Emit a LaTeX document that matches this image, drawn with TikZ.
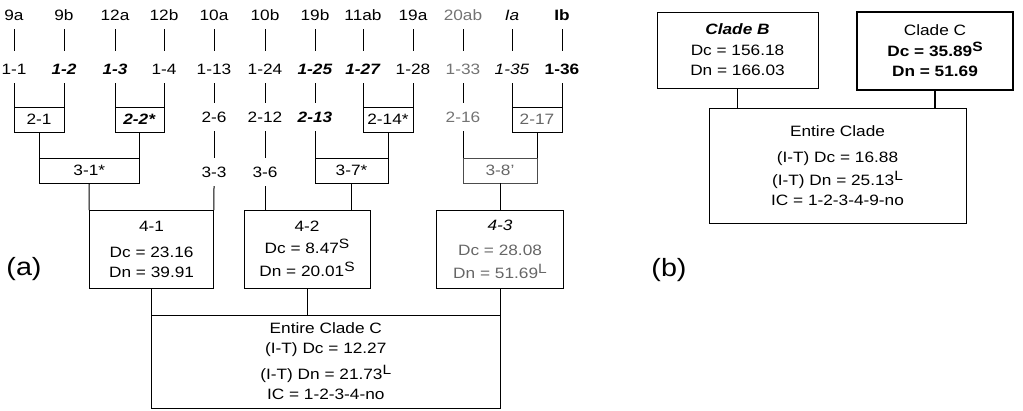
\documentclass[tikz,border=0pt]{standalone}
\usepackage{fontspec}
\setmainfont{Liberation Sans}[FakeStretch=1.15]
\newcommand\myfs{\fontsize{15}{20}\selectfont}
\newcommand\msup[1]{\raisebox{5pt}{\fontsize{13.5}{13.5}\selectfont #1}}
\newcommand\bi[1]{\textbf{\textit{#1}}}
\begin{document}
\begin{tikzpicture}[x=1pt,y=-1pt,
  lbl/.style={inner sep=0pt, outer xsep=0pt, outer ysep=9pt, text height=10pt, text depth=0pt, font=\myfs},
  bx/.style={draw, line width=1pt, inner sep=0pt, outer sep=0pt, font=\myfs, align=center},
  ln/.style={line width=1pt},
  topln/.style={ln, shorten >=4pt},
  gr/.style={text=black!55},
  big/.style={font=\fontsize{25}{25}\selectfont, inner sep=0pt}
]
\useasboundingbox (0,0) rectangle (1023,410);
% top row
\node[lbl] (t1) at (14,15) {9a};
\node[lbl] (t2) at (64,15) {9b};
\node[lbl] (t3) at (115,15) {12a};
\node[lbl] (t4) at (164,15) {12b};
\node[lbl] (t5) at (214,15) {10a};
\node[lbl] (t6) at (265,15) {10b};
\node[lbl] (t7) at (315,15) {19b};
\node[lbl] (t8) at (363,15) {11ab};
\node[lbl] (t9) at (413,15) {19a};
\node[lbl,gr] (t10) at (463,15) {20ab};
\node[lbl] (t11) at (512,15) {\textit{Ia}};
\node[lbl] (t12) at (562,15) {\textbf{Ib}};
% second row
\node[lbl] (s1) at (14,69) {1-1};
\node[lbl] (s2) at (64,69) {\bi{1-2}};
\node[lbl] (s3) at (115,69) {\bi{1-3}};
\node[lbl] (s4) at (164,69) {1-4};
\node[lbl] (s5) at (214,69) {1-13};
\node[lbl] (s6) at (265,69) {1-24};
\node[lbl] (s7) at (315,69) {\bi{1-25}};
\node[lbl] (s8) at (363,69) {\bi{1-27}};
\node[lbl] (s9) at (413,69) {1-28};
\node[lbl,gr] (s10) at (463,69) {1-33};
\node[lbl] (s11) at (512,69) {\textit{1-35}};
\node[lbl] (s12) at (562,69) {\textbf{1-36}};
\foreach \i in {1,...,12} {\draw[topln] (t\i.south) -- (s\i.north);}
% level 2
\node[bx, minimum width=50, minimum height=25] (b21) at (39,119.5) {2-1};
\node[bx, minimum width=49, minimum height=25] (b22) at (139.5,119.5) {\bi{2-2*}};
\node[lbl] (r26) at (214,117) {2-6};
\node[lbl] (r212) at (265,117) {2-12};
\node[lbl] (r213) at (315,117) {\bi{2-13}};
\node[bx, minimum width=50, minimum height=25] (b214) at (388,119.5) {2-14*};
\node[lbl,gr] (r216) at (463,117) {2-16};
\node[bx, minimum width=50, minimum height=25, text=black!60] (b217) at (537,119.5) {2-17};
\draw[ln] (s1.south) -- (b21.north west);
\draw[ln] (s2.south) -- (b21.north east);
\draw[ln] (s3.south) -- (b22.north west);
\draw[ln] (s4.south) -- (b22.north east);
\draw[ln] (s5.south) -- (r26.north);
\draw[ln] (s6.south) -- (r212.north);
\draw[ln] (s7.south) -- (r213.north);
\draw[ln] (s8.south) -- (b214.north west);
\draw[ln] (s9.south) -- (b214.north east);
\draw[ln] (s10.south) -- (r216.north);
\draw[ln] (s11.south) -- (b217.north west);
\draw[ln] (s12.south) -- (b217.north east);
% level 3
\node[bx, minimum width=100.5, minimum height=25] (b31) at (89.25,170.5) {3-1*};
\node[lbl] (r33) at (214,172) {3-3};
\node[lbl] (r36) at (265,172) {3-6};
\node[bx, minimum width=73, minimum height=25] (b37) at (351.5,170.5) {3-7*};
\node[bx, draw=black!70, minimum width=74, minimum height=25, text=black!60] (b38) at (500,170.5) {3-8’};
\draw[ln] (b21.south) -- (b31.north west);
\draw[ln] (b22.south) -- (b31.north east);
\draw[ln] (r26.south) -- (r33.north);
\draw[ln] (r212.south) -- (r36.north);
\draw[ln] (r213.south) -- (b37.north west);
\draw[ln] (b214.south) -- (b37.north east);
\draw[ln] (r216.south) -- (b38.north west);
\draw[ln] (b217.south) -- (b38.north east);
% level 4
\node[bx, minimum width=124.75, minimum height=78] (b41) at (151.6,249)
  {4-1\\[6pt]Dc = 23.16\\Dn = 39.91};
\node[bx, minimum width=126, minimum height=78] (b42) at (307,249)
  {4-2\\[2pt]Dc = 8.47\msup{S}\\[3pt]Dn = 20.01\msup{S}};
\node[bx, minimum width=127, minimum height=78] (b43) at (500,249)
  {\textit{4-3}\\[5pt]\textcolor{black!60}{Dc = 28.08}\\[3pt]\textcolor{black!60}{Dn = 51.69\msup{L}}};
\draw[ln] (b31.south) -- (b41.north west);
\draw[ln] (r33.south) -- (b41.north east);
\draw[ln] (r36.south) -- (r36.south |- b42.north);
\draw[ln] (b37.south) -- (b37.south |- b42.north);
\draw[ln] (b38.south) -- (b43.north);
% entire clade C
\node[bx, minimum width=348.4, minimum height=93] (bot) at (325.8,361.5)
  {Entire Clade C\\(I-T) Dc = 12.27\\[6pt](I-T) Dn = 21.73\msup{L}\\IC = 1-2-3-4-no};
\draw[ln] (b41.south) -- (bot.north west);
\draw[ln] (b42.south) -- (b42.south |- bot.north);
\draw[ln] (b43.south) -- (bot.north east);
\node[big] (la) at (24,269) {(a)};
% panel b
\node[bx, minimum width=161, minimum height=76] (cB) at (737.5,50)
  {\bi{Clade B}\\[1pt]Dc = 156.18\\Dn = 166.03};
\node[bx, line width=2pt, minimum width=156, minimum height=78] (cC) at (935,51)
  {Clade C\\[1pt]\textbf{Dc = 35.89\msup{S}}\\\textbf{Dn = 51.69}};
\node[bx, minimum width=257, minimum height=115] (ec) at (837.5,165.5)
  {Entire Clade\\[6pt](I-T) Dc = 16.88\\[3pt](I-T) Dn = 25.13\msup{L}\\IC = 1-2-3-4-9-no};
\draw[ln] (cB.south) -- (cB.south |- ec.north);
\draw[line width=1.5pt] (cC.south) -- (cC.south |- ec.north);
\node[big] (lb) at (669,270) {(b)};
\end{tikzpicture}
\end{document}
